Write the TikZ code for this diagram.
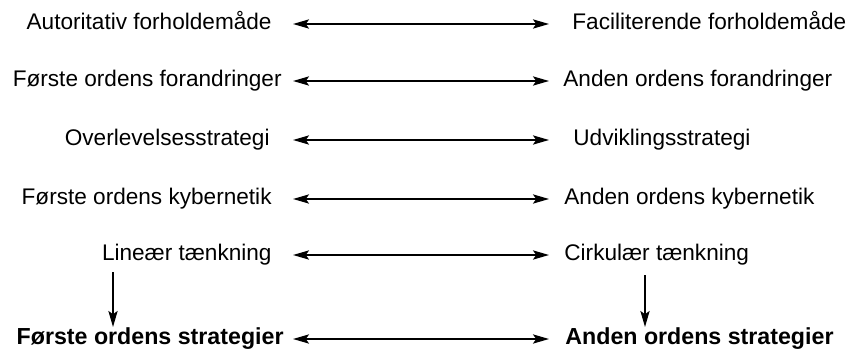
\documentclass[tikz,border=0pt]{standalone}
\usepackage{fontspec}
\setmainfont{Liberation Sans}
\usetikzlibrary{arrows.meta}
\begin{document}
\begin{tikzpicture}[x=0.5pt,y=-0.5pt,
  lbl/.style={inner sep=0pt,font=\fontsize{11.3}{13}\selectfont},
  blbl/.style={inner sep=0pt,font=\fontsize{11.6}{13}\selectfont\bfseries},
  dbl/.style={line width=0.8pt,{Stealth[length=8pt,width=4.6pt,inset=1.6pt]}-{Stealth[length=8pt,width=4.6pt,inset=1.6pt]}},
  sgl/.style={line width=0.8pt,-{Stealth[length=8pt,width=4.6pt,inset=1.6pt]}}]
\useasboundingbox (0,0) rectangle (851,353);
% left column
\node[lbl,anchor=mid east] (l1) at (272,24) {Autoritativ forholdemåde};
\node[lbl,anchor=mid east] (l2) at (282,81) {Første ordens forandringer};
\node[lbl,anchor=mid east] (l3) at (270,140) {Overlevelsesstrategi};
\node[lbl,anchor=mid east] (l4) at (272,199) {Første ordens kybernetik};
\node[lbl,anchor=mid east] (l5) at (272,255) {Lineær tænkning};
\node[blbl,anchor=mid east] (l6) at (284,339) {Første ordens strategier};
% right column
\node[lbl,anchor=mid west] (r1) at (572,24) {Faciliterende forholdemåde};
\node[lbl,anchor=mid west] (r2) at (563,81) {Anden ordens forandringer};
\node[lbl,anchor=mid west] (r3) at (573,140) {Udviklingsstrategi};
\node[lbl,anchor=mid west] (r4) at (564,199) {Anden ordens kybernetik};
\node[lbl,anchor=mid west] (r5) at (564,255) {Cirkulær tænkning};
\node[blbl,anchor=mid west] (r6) at (565,339) {Anden ordens strategier};
% arrow end points
\foreach \i/\y in {1/24,2/81,3/140,4/199,5/255,6/339}{
  \coordinate (a\i) at (293,\y);
  \coordinate (b\i) at (549,\y);
  \draw[dbl] (a\i) -- (b\i);
}
\coordinate (v1a) at (113,272);
\coordinate (v1b) at (113,327);
\coordinate (v2a) at (645,275);
\coordinate (v2b) at (645,327);
\draw[sgl] (v1a) -- (v1b);
\draw[sgl] (v2a) -- (v2b);
\end{tikzpicture}
\end{document}
